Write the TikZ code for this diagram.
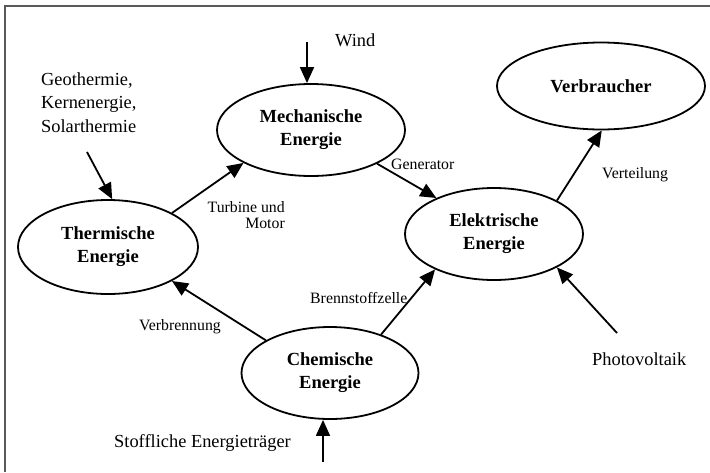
\documentclass[tikz,border=0pt]{standalone}
\usepackage{fontspec}
\setmainfont{Liberation Serif}
\usetikzlibrary{arrows.meta,shapes.geometric}
\begin{document}
\begin{tikzpicture}[x=1pt,y=-1pt,
  en/.style={ellipse,draw,line width=1.8pt,inner sep=0pt,align=center,font=\fontsize{18.5}{23}\selectfont\bfseries},
  lab/.style={inner sep=0pt,font=\fontsize{15.8}{16.5}\selectfont},
  big/.style={inner sep=0pt,font=\fontsize{18.4}{23.5}\selectfont},
  arr/.style={line width=1.8pt,-{Triangle[length=16pt,width=14pt]}}]
\useasboundingbox (0,0) rectangle (710,472);
\draw[line width=2pt,black!65] (4.5,472) -- (4.5,6) -- (710,6);

\node[en,minimum width=188pt,minimum height=92pt] (mech) at (311,130) {Mechanische\\Energie};
\node[en,minimum width=180pt,minimum height=94pt] (therm) at (108,247) {Thermische\\Energie};
\node[en,minimum width=208pt,minimum height=87pt] (verb) at (601,86) {Verbraucher};
\node[en,minimum width=178pt,minimum height=92pt] (elek) at (494,234) {Elektrische\\Energie};
\node[en,minimum width=177pt,minimum height=92pt] (chem) at (330,373) {Chemische\\Energie};

\node[big,anchor=base west] (windt) at (335,46) {Wind};
\node[big,anchor=north west,align=left] (geot) at (41,72.5) {Geothermie,\\Kernenergie,\\Solarthermie};
\node[big,anchor=base west] (pvt) at (592,365) {Photovoltaik};
\node[big,anchor=base west] (stt) at (114,447) {Stoffliche Energieträger};

\node[lab,anchor=north east,align=right] (tut) at (285,201) {Turbine und\\Motor};
\node[lab,anchor=base west] (gent) at (391,169) {Generator};
\node[lab,anchor=base west] (vtt) at (602,178) {Verteilung};
\node[lab,anchor=base west] (vbt) at (139,330) {Verbrennung};
\node[lab,anchor=base west] (bzt) at (310,303) {Brennstoffzelle};

\draw[arr] (therm.28) -- (mech.206);
\draw[arr] (mech.333) -- (elek.148);
\draw[arr] (elek.28) -- (verb.271);
\draw[arr] (chem.153) -- (therm.332);
\draw[arr] (chem.37) -- (elek.211);
\coordinate (pv) at (617,333);
\draw[arr] (pv) -- (elek.332);
\coordinate (wd) at (307,42);
\draw[arr] (wd) -- (wd |- mech.north);
\coordinate (gt) at (87,152);
\draw[arr] (gt) -- (therm.85);
\coordinate (st) at (323,462);
\draw[arr] (st) -- (st |- chem.south);
\end{tikzpicture}
\end{document}
